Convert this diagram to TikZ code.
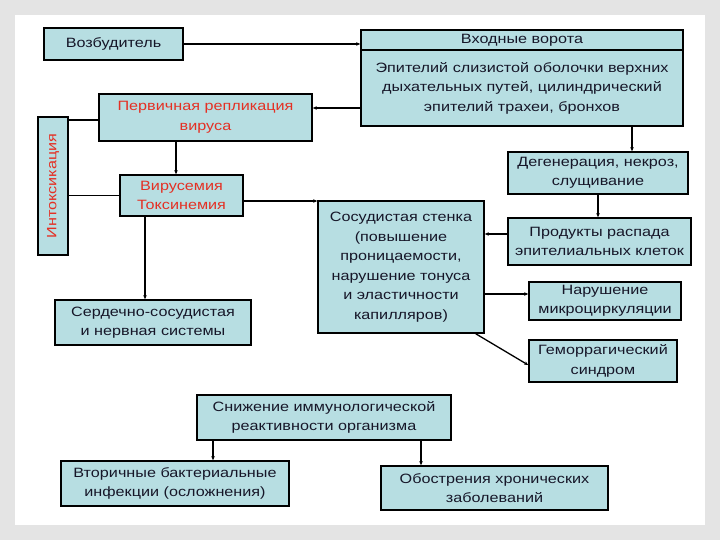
\documentclass[tikz,border=0pt]{standalone}
\usepackage{fontspec}
\setmainfont{Liberation Sans}[FakeStretch=1.2]
\usepackage{tikz}
\usetikzlibrary{arrows.meta}
\definecolor{boxfill}{RGB}{183,222,226}
\definecolor{redtext}{RGB}{228,48,36}
\definecolor{inktext}{RGB}{22,22,40}
\definecolor{framegray}{RGB}{228,228,228}

\begin{document}
\begin{tikzpicture}[x=1pt,y=-1pt,
  box/.style={draw=black,line width=1.6pt,fill=boxfill,inner sep=0pt,align=center,text=inktext,font=\fontsize{13.5}{19.5}\selectfont},
  redbox/.style={box,text=redtext},
  arr/.style={line width=1.3pt,-{Stealth[length=4pt,width=3.5pt]}},
  link/.style={line width=1.3pt}]
\fill[framegray] (0,0) rectangle (720,540);
\fill[white] (15,15) rectangle (705,525);

\node[box,minimum width=139,minimum height=32] (agent) at (113.5,44) {Возбудитель};
\node[box,minimum width=322,minimum height=20] (gatehead) at (522,40) {Входные ворота};
\node[box,minimum width=322,minimum height=76] (gatebody) at (522,88) {Эпителий слизистой оболочки верхних\\дыхательных путей, цилиндрический\\эпителий трахеи, бронхов};
\node[redbox,minimum width=213,minimum height=47] (primrep) at (205.5,117.5) {Первичная репликация\\вируса};
\node[redbox,minimum width=30,minimum height=138] (intox) at (53,186) {\rotatebox{90}{Интоксикация}};
\node[redbox,minimum width=123,minimum height=41] (viremia) at (181.5,195.5) {Вирусемия\\Токсинемия};
\node[box,minimum width=180,minimum height=42] (degen) at (598,173) {Дегенерация, некроз,\\слущивание};
\node[box,minimum width=183,minimum height=47] (decay) at (599.5,241.5) {Продукты распада\\эпителиальных клеток};
\node[box,minimum width=166,minimum height=132] (vessel) at (401,267) {Сосудистая стенка\\(повышение\\проницаемости,\\нарушение тонуса\\и эластичности\\капилляров)};
\node[box,minimum width=152,minimum height=38] (micro) at (605,301) {Нарушение\\микроциркуляции};
\node[box,minimum width=148,minimum height=42] (hemor) at (603,361) {Геморрагический\\синдром};
\node[box,minimum width=196,minimum height=45] (cardio) at (153,322.5) {Сердечно-сосудистая\\и нервная системы};
\node[box,minimum width=254,minimum height=45] (immun) at (324,417.5) {Снижение иммунологической\\реактивности организма};
\node[box,minimum width=228,minimum height=45] (infect) at (175,483.5) {Вторичные бактериальные\\инфекции (осложнения)};
\node[box,minimum width=227,minimum height=44] (chronic) at (494.5,488) {Обострения хронических\\заболеваний};

\draw[arr,line width=1.8pt] (agent.east) -- (agent.east -| gatehead.west);
\draw[arr] (gatebody.west |- 0,108) -- (primrep.east |- 0,108);
\draw[link] (primrep.west |- 0,120) -- (intox.east |- 0,120);
\draw[arr] (primrep.south -| 176,0) -- (viremia.north -| 176,0);
\draw[link] (viremia.west) -- (viremia.west -| intox.east);
\draw[arr] (viremia.east |- 0,201) -- (vessel.west |- 0,201);
\draw[arr] (viremia.south -| 145,0) -- (cardio.north -| 145,0);
\draw[arr] (gatebody.south -| 632,0) -- (degen.north -| 632,0);
\draw[arr] (degen.south) -- (degen.south |- decay.north);
\draw[arr] (decay.west |- 0,234) -- (vessel.east |- 0,234);
\draw[arr] (vessel.east |- 0,294) -- (micro.west |- 0,294);
\draw[arr] ([xshift=-9pt]vessel.south east) -- ([yshift=-4pt]hemor.west);
\draw[arr] (immun.south -| 213,0) -- (infect.north -| 213,0);
\draw[arr] (immun.south -| 421,0) -- (chronic.north -| 421,0);
\end{tikzpicture}
\end{document}
